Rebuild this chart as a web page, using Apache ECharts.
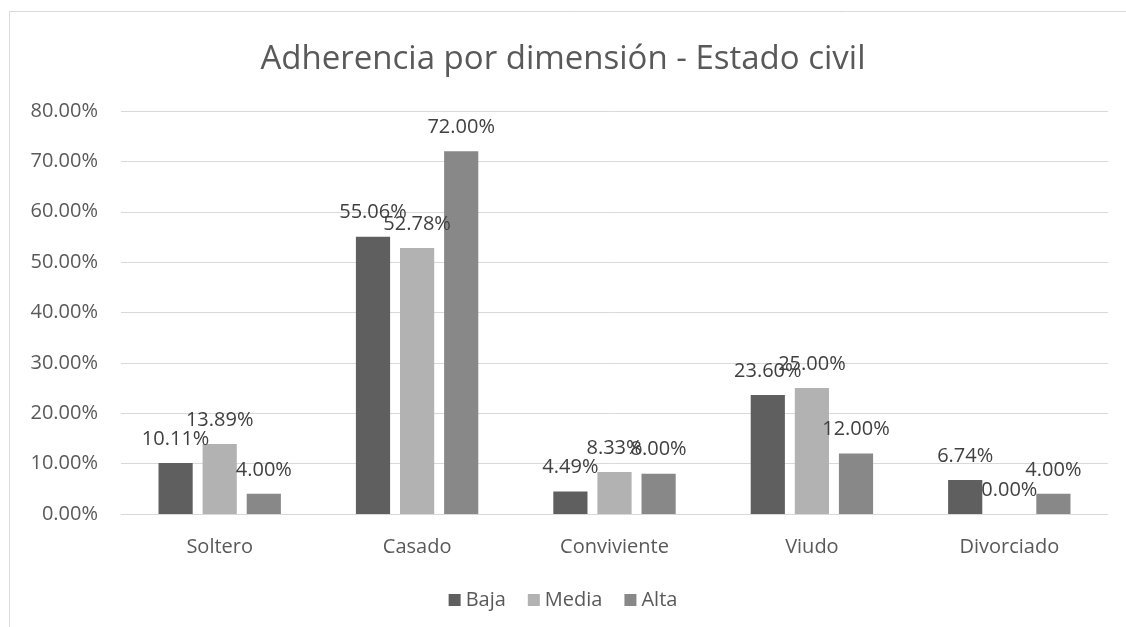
<!DOCTYPE html>
<html>
<head>
<meta charset="utf-8">
<script src="https://cdn.jsdelivr.net/npm/echarts@6/dist/echarts.min.js"></script>
<style>
  html, body { margin: 0; padding: 0; background: #fff; }
  #chart { width: 1126px; height: 627px; }
</style>
</head>
<body>
<div id="chart"></div>
<script>
var categories = ['Soltero', 'Casado', 'Conviviente', 'Viudo', 'Divorciado'];
var baja = [10.11, 55.06, 4.49, 23.60, 6.74];
var media = [13.89, 52.78, 8.33, 25.00, 0.00];
var alta = [4.00, 72.00, 8.00, 12.00, 4.00];
var seriesNames = ['Baja', 'Media', 'Alta'];
var seriesColors = ['#5f5f5f', '#b2b2b2', '#888888'];

var fontFam = '"Open Sans", Lato, sans-serif';

function makeSeries(name, data, color) {
    return {
        name: name,
        type: 'bar',
        data: data,
        barGap: '29%',
        barCategoryGap: '38%',
        itemStyle: { color: color },
        label: {
            show: true,
            position: 'top',
            distance: 14,
            color: '#404040',
            fontSize: 20,
            fontFamily: fontFam,
            formatter: function (p) { return p.value.toFixed(2) + '%'; }
        }
    };
}

var myChart = echarts.init(document.getElementById('chart'));
var option = {
    backgroundColor: '#fff',
    animation: false,
    title: {
        text: 'Adherencia por dimensión - Estado civil',
        left: 'center',
        top: 38,
        textStyle: { color: '#595959', fontSize: 33, fontWeight: 'normal', fontFamily: fontFam }
    },
    graphic: [{
        type: 'rect',
        shape: { x: 9.5, y: 11.5, width: 1200, height: 700 },
        style: { fill: 'none', stroke: '#d9d9d9', lineWidth: 1 },
        silent: true,
        z: -1
    }],
    legend: {
        bottom: 12,
        left: 'center',
        itemWidth: 12,
        itemHeight: 12,
        itemGap: 22,
        icon: 'rect',
        textStyle: { color: '#595959', fontSize: 20, fontFamily: fontFam },
        data: seriesNames
    },
    grid: { left: 121, right: 18, top: 111, bottom: 113 },
    xAxis: {
        type: 'category',
        data: categories,
        axisTick: { show: false },
        axisLine: { lineStyle: { color: '#d9d9d9', width: 1 } },
        axisLabel: { color: '#595959', fontSize: 20, fontFamily: fontFam, margin: 23 }
    },
    yAxis: {
        type: 'value',
        min: 0,
        max: 80,
        interval: 10,
        axisLine: { show: false },
        axisTick: { show: false },
        splitLine: { lineStyle: { color: '#d9d9d9', width: 1 } },
        axisLabel: {
            color: '#595959', fontSize: 20, fontFamily: fontFam, margin: 23,
            formatter: function (v) { return v.toFixed(2) + '%'; }
        }
    },
    series: [
        makeSeries(seriesNames[0], baja, seriesColors[0]),
        makeSeries(seriesNames[1], media, seriesColors[1]),
        makeSeries(seriesNames[2], alta, seriesColors[2])
    ]
};
myChart.setOption(option);
</script>
</body>
</html>
